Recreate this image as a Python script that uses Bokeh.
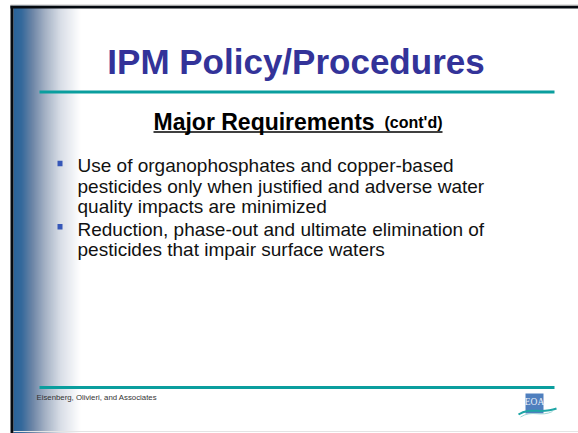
from bokeh.plotting import figure
from bokeh.models import Range1d
from bokeh.core.properties import value
from bokeh.embed import file_html
from bokeh.resources import INLINE

# ---- slide content ----
title = "IPM Policy/Procedures"
subtitle_main = "Major Requirements"
subtitle_small = "(cont'd)"
bullets = [
    ["Use of organophosphates and copper-based",
     "pesticides only when justified and adverse water",
     "quality impacts are minimized"],
    ["Reduction, phase-out and ultimate elimination of",
     "pesticides that impair surface waters"],
]
footer = "Eisenberg, Olivieri, and Associates"
logo_text = "EOA"

# gradient stops for the left band (page x, colour)
grad_x = [13, 21, 32, 45, 60, 80]
grad_c = ["#29639a", "#34699b", "#6d85a6", "#a5b2c5", "#d8dde6", "#ffffff"]

W, H = 578, 433
p = figure(width=W, height=H, x_range=Range1d(0, W), y_range=Range1d(H, 0),
           output_backend="svg", toolbar_location=None, min_border=0,
           x_axis_location=None, y_axis_location=None)
p.grid.visible = False
p.outline_line_color = None
p.background_fill_color = "white"
p.border_fill_color = "white"


def hex2rgb(h):
    h = h.lstrip("#")
    return tuple(int(h[i:i + 2], 16) for i in (0, 2, 4))


def interp(x):
    for i in range(len(grad_x) - 1):
        if grad_x[i] <= x <= grad_x[i + 1]:
            t = (x - grad_x[i]) / (grad_x[i + 1] - grad_x[i])
            a, b = hex2rgb(grad_c[i]), hex2rgb(grad_c[i + 1])
            return "#%02x%02x%02x" % tuple(round(a[k] + (b[k] - a[k]) * t) for k in range(3))
    return grad_c[-1]


xs = list(range(grad_x[0], grad_x[-1]))
p.quad(left=xs, right=[x + 1.6 for x in xs], top=[5] * len(xs), bottom=[H] * len(xs),
       fill_color=[interp(x + 0.5) for x in xs], line_color=None)

# slide frame (black left and top borders, faint bottom edge)
p.quad(left=[10], right=[13], top=[5], bottom=[H], fill_color="#050a10", line_color=None)
p.quad(left=[10], right=[W], top=[5], bottom=[8], fill_color="#050a10", line_color=None)
p.quad(left=[10], right=[W], top=[4], bottom=[5], fill_color="#c8c8c8", line_color=None)
p.quad(left=[13], right=[W], top=[430.5], bottom=[431.5], fill_color="#e4e4e4", line_color=None)

# title
p.text(x=[295.5], y=[60.5], text=[title], text_font=value("Liberation Sans"),
       text_font_style="bold", text_font_size="35px", text_color="#333399",
       text_align="center", text_baseline="middle")

# teal rules
p.segment(x0=[39, 39], y0=[91.5, 387], x1=[554, 554], y1=[91.5, 387],
          line_color="#0a9e9e", line_width=3)

# subtitle (underlined)
sub_x0, sub_x1 = 153, 442
sub_y = 121
p.text(x=[sub_x0], y=[sub_y], text=[subtitle_main], text_font=value("Liberation Sans"),
       text_font_style="bold", text_font_size="23px", text_color="#000000",
       text_align="left", text_baseline="middle")
p.text(x=[sub_x1], y=[sub_y + 1], text=[subtitle_small], text_font=value("Liberation Sans"),
       text_font_style="bold", text_font_size="16px", text_color="#000000",
       text_align="right", text_baseline="middle")
p.segment(x0=[sub_x0], y0=[sub_y + 10.5], x1=[sub_x1], y1=[sub_y + 10.5],
          line_color="#000000", line_width=1.5)

# bullets
line_h = 20.2
gap = 2.8
y0 = 165.4
tx, ty, sx, sy = [], [], [], []
y = y0
for b in bullets:
    sx.append(59.5)
    sy.append(y - 2.5)
    for ln in b:
        tx.append(77)
        ty.append(y)
        y += line_h
    y += gap
texts = [ln for b in bullets for ln in b]
p.text(x=tx, y=ty, text=texts, text_font=value("Liberation Sans"),
       text_font_size="19px", text_color="#111111", text_align="left",
       text_baseline="middle")
p.rect(x=sx, y=sy, width=5, height=5.5, fill_color="#3657b8", line_color=None)

# footer
p.text(x=[36], y=[396.5], text=[footer], text_font=value("Liberation Sans"),
       text_font_size="7.8px", text_color="#333333", text_align="left",
       text_baseline="middle")

# logo
p.quad(left=[525], right=[543], top=[393], bottom=[413], fill_color="#4f7fbe", line_color=None)
p.text(x=[534], y=[401.5], text=[logo_text], text_font=value("Liberation Sans Narrow"),
       text_font_size="9.5px", text_color="#e8eef8", text_align="center",
       text_baseline="middle")
p.bezier(x0=[518], y0=[414], x1=[556], y1=[408], cx0=[530], cy0=[406],
         cx1=[540], cy1=[414], line_color="#1fa6a6", line_width=2)
p.bezier(x0=[520], y0=[416.5], x1=[552], y1=[411], cx0=[532], cy0=[409],
         cx1=[540], cy1=[417], line_color="#9fd6d6", line_width=1)

open("out.html", "w").write(file_html(p, INLINE))
